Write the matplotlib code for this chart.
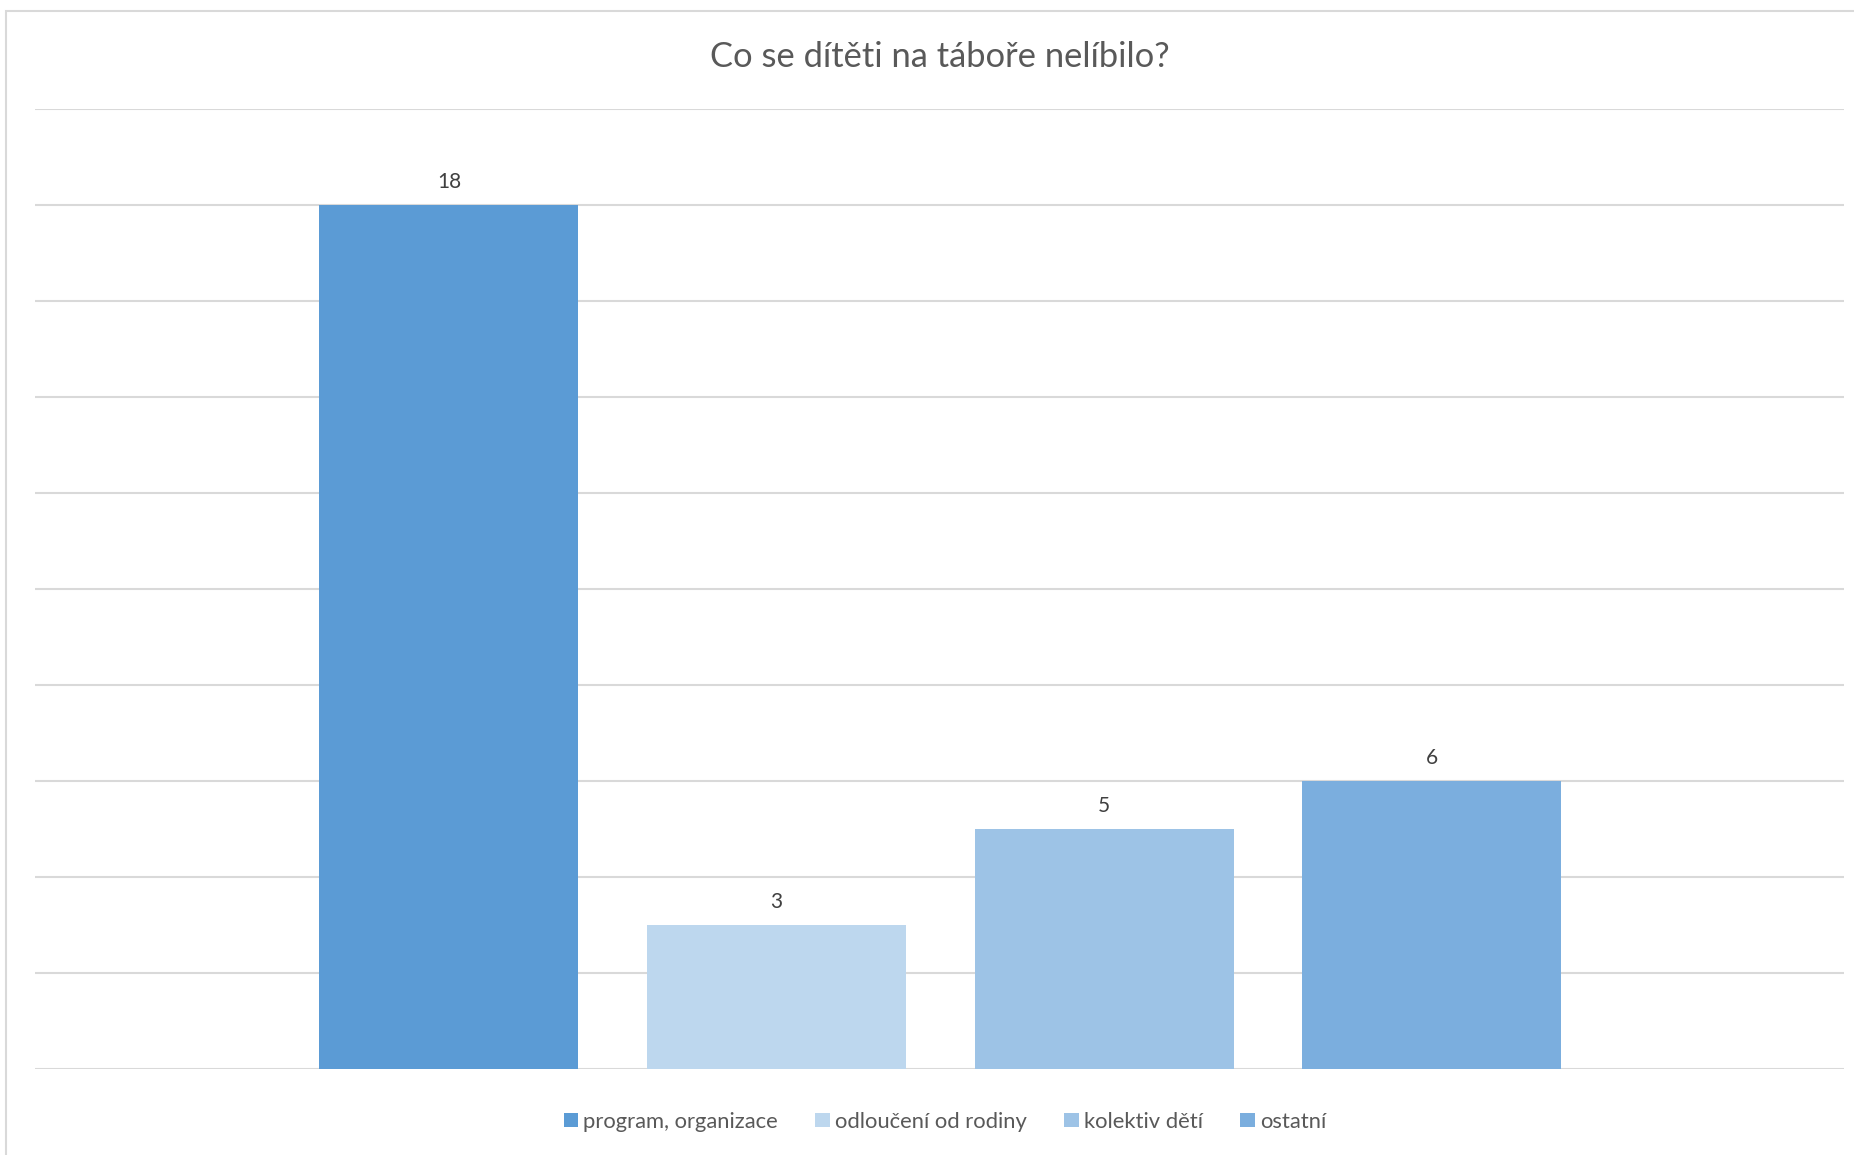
import matplotlib.pyplot as plt
from matplotlib.patches import Rectangle, Patch

# data
categories = ["program, organizace", "odloučení od rodiny", "kolektiv dětí", "ostatní"]
values = [18, 3, 5, 6]
colors = ["#5B9BD5", "#BDD7EE", "#9DC3E6", "#7BAEDE"]
title = "Co se dítěti na táboře nelíbilo?"

plt.rcParams['font.family'] = ['Lato', 'DejaVu Sans']

W, H = 1854, 1155
fig = plt.figure(figsize=(W / 100, H / 100), dpi=100)

# chart border (cut at right/bottom edges like the reference)
fig.patches.append(Rectangle((6 / W, -0.05), 1.1, 1 - 11 / H + 0.05, transform=fig.transFigure,
                             fill=False, edgecolor="#D9D9D9", linewidth=1.5))

ax = fig.add_axes([35 / W, (H - 1069) / H, (1844 - 35) / W, (1069 - 109) / H])

x = list(range(len(values)))
bars = ax.bar(x, values, width=0.79, color=colors, zorder=3)
for xi, v in zip(x, values):
    ax.text(xi, v + 0.28, str(v), ha="center", va="bottom", fontsize=15, color="#404040")

ax.set_ylim(0, 20)
ax.set_xlim(-1.263, 4.258)
ax.set_yticks(range(0, 21, 2))
ax.yaxis.grid(True, color="#D9D9D9", linewidth=1.5, zorder=0)
ax.tick_params(left=False, bottom=False, labelleft=False, labelbottom=False)
for s in ax.spines.values():
    s.set_visible(False)

ax.set_title(title, fontsize=24.8, color="#595959", pad=30)

handles = [Patch(facecolor=c, label=l) for c, l in zip(colors, categories)]
ax.legend(handles=handles, loc="upper center", bbox_to_anchor=(0.503, -0.024), ncol=4,
          frameon=False, fontsize=15.8, labelcolor="#595959", handlelength=0.65, handleheight=0.65,
          handletextpad=0.25, columnspacing=1.7)

fig.savefig("out.png", dpi=100)
